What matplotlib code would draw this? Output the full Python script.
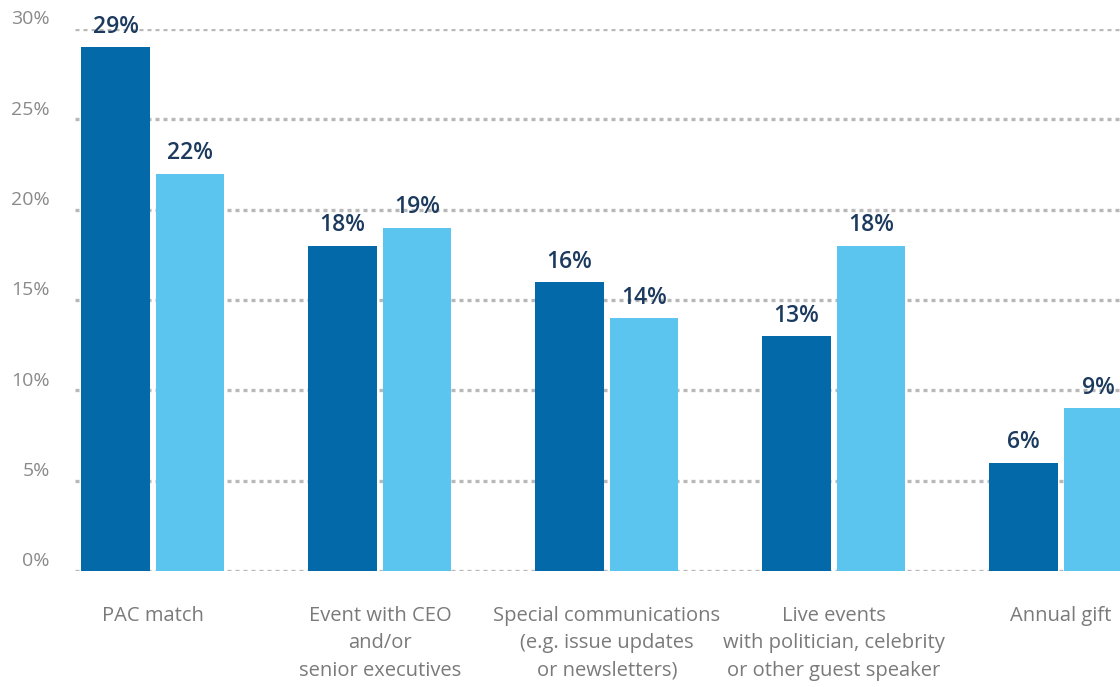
import matplotlib
matplotlib.use("Agg")
import matplotlib.pyplot as plt
import numpy as np

categories = [
    "PAC match",
    "Event with CEO\nand/or\nsenior executives",
    "Special communications\n(e.g. issue updates\nor newsletters)",
    "Live events\nwith politician, celebrity\nor other guest speaker",
    "Annual gift",
]
series_a = [29, 18, 16, 13, 6]
series_b = [22, 19, 14, 18, 9]
yticks = [0, 5, 10, 15, 20, 25, 30]

dark_blue = "#0469a8"
light_blue = "#5bc4ef"
navy = "#1b3a5e"
grid_gray = "#b8b8b8"

plt.rcParams["font.family"] = ["Open Sans", "DejaVu Sans"]

W, H = 1120, 687
fig = plt.figure(figsize=(W / 100, H / 100), dpi=100)
ax = fig.add_axes([75 / W, (H - 571) / H, 1 - 75 / W, (571 - 29) / H])

x = np.arange(len(categories))
bw = 0.30
off = 0.165

ax.set_xlim(-0.3436, 4.26)
ax.set_ylim(0, 30)

for v in yticks:
    ax.axhline(v, color=grid_gray, lw=2.4, ls=(0, (1.2, 1.2)), zorder=1)

ba = ax.bar(x - off, series_a, width=bw, color=dark_blue, zorder=2)
bb = ax.bar(x + off, series_b, width=bw, color=light_blue, zorder=2)

for bars, vals in ((ba, series_a), (bb, series_b)):
    for b, v in zip(bars, vals):
        ax.annotate(f"{v}%", (b.get_x() + b.get_width() / 2, v),
                    xytext=(0, 6), textcoords="offset points",
                    ha="center", va="bottom", fontsize=16.5, fontweight="semibold",
                    color=navy, zorder=3)

for xi, lab in zip(x, categories):
    ax.annotate(lab, (xi, 0), xytext=(0, -25), textcoords="offset points",
                ha="center", va="top", fontsize=14.5,
                color="#7a7a7a", linespacing=1.5)

# tick labels sit a little above their gridlines
for v in yticks:
    ax.annotate(f"{v}%", (-0.3436, v), xytext=(-18, 7), textcoords="offset points",
                ha="right", va="center", fontsize=14, color="#8a8a8a",
                annotation_clip=False)

ax.set_xticks([])
ax.set_yticks([])
for s in ax.spines.values():
    s.set_visible(False)

fig.savefig("out.png", dpi=100)
